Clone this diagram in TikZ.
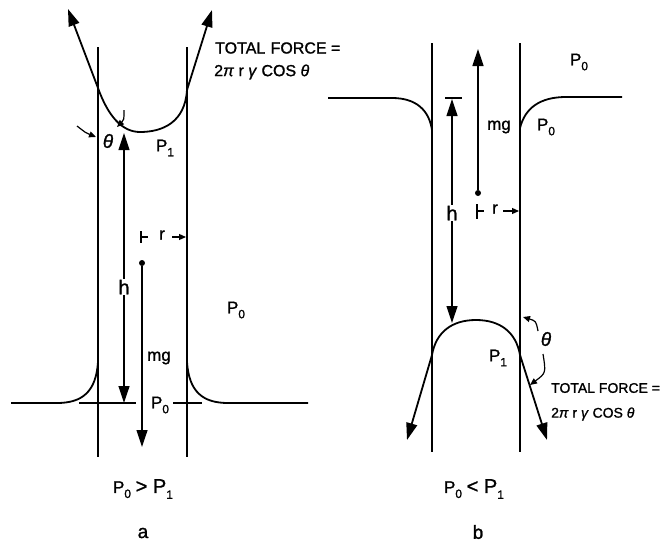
\documentclass[tikz,border=0pt]{standalone}
\usepackage{fontspec}
\setmainfont{Liberation Sans}[FakeBold=1.2]
\usetikzlibrary{arrows.meta}
\newcommand\sbs[1]{\raisebox{-0.55ex}{\fontsize{12}{12}\selectfont #1}}
\begin{document}
\begin{tikzpicture}[x=1pt,y=-1pt,
  wall/.style={line width=2.8pt},
  surf/.style={line width=1.8pt},
  fine/.style={line width=1.2pt},
  bigtip/.style={-{Triangle[length=17pt,width=11pt]}},
  smalltip/.style={-{Triangle[length=7pt,width=6pt]}},
  lbl/.style={font=\fontsize{17}{17}\selectfont, inner sep=1pt},
  hlbl/.style={font=\fontsize{20}{20}\selectfont, inner sep=1pt, fill=white},
  ttl/.style={font=\fontsize{16}{19}\selectfont, anchor=west, inner sep=0pt},
  dotc/.style={circle, fill=black, inner sep=0pt, minimum size=6pt},
]
\useasboundingbox (0,0) rectangle (661,544);

% ================= panel a =================
\coordinate (aLT) at (98,47);  \coordinate (aLB) at (98,457);
\coordinate (aRT) at (187,47); \coordinate (aRB) at (187,457);
\draw[wall] (aLT) -- (aLB);
\draw[wall] (aRT) -- (aRB);

% meniscus (concave)
\coordinate (aCL) at (98,88);
\coordinate (aCR) at (187,90);
\draw[surf] (aCL) .. controls (108,116) and (122,132) .. (140,132)
                  .. controls (163,132) and (185,122) .. (aCR);
\coordinate (aFL) at (68,9);
\coordinate (aFR) at (212,10);
\draw[surf,bigtip] (aCL) -- (aFL);
\draw[surf,bigtip] (aCR) -- (aFR);

% theta (a)
\draw[fine,smalltip] (77,126) .. controls (86,133) .. (96,137);
\draw[fine,smalltip] (124,110) .. controls (124,120) .. (117,127);
\node[lbl,font=\fontsize{19}{19}\selectfont\itshape] (athe) at (108,141) {θ};
\node[lbl] (aP1) at (165,148) {P\sbs{1}};

% total force text (a)
\node[ttl] (aTF1) at (215,48) {TOTAL\,\,FORCE =};
\node[ttl] (aTF2) at (214,72) {2\textit{π} r \textit{γ} COS \textit{θ}};

% outside liquid surface (a)
\draw[surf] (11,403) -- (57,403) .. controls (82,403) and (96,392) .. (98,362);
\draw[surf] (187,362) .. controls (189,392) and (203,403) .. (228,403) -- (308,403);
\coordinate (aS1) at (79,403);  \coordinate (aS2) at (136,403);
\coordinate (aS3) at (173,403); \coordinate (aS4) at (202,403);
\draw[fine] (aS1) -- (aS2);
\draw[fine] (aS3) -- (aS4);

% h (a)
\node[hlbl] (ah) at (124,287) {h};
\coordinate (ahT) at (124,133);
\coordinate (ahB) at (124,403);
\draw[fine,bigtip] (ah) -- (ahT);
\draw[fine,bigtip] (ah) -- (ahB);

% r (a)
\draw[fine] (141,231) -- (141,243);
\draw[fine] (141,237) -- (148,237);
\node[lbl] (ar) at (162,235) {r};
\coordinate (arW) at (186,237);
\draw[fine,smalltip] (172,237) -- (arW);

% mg (a)
\node[dotc] (amgD) at (142,263) {};
\coordinate (amgT) at (142,447);
\draw[fine,bigtip] (amgD) -- (amgT);
\node[lbl] (amg) at (159,358) {mg};
\node[lbl] (aP0i) at (160,405) {P\sbs{0}};
\node[lbl] (aP0o) at (236,310) {P\sbs{0}};

\node[lbl] (acmp) at (143,489) {P\sbs{0} \fontsize{20}{20}\selectfont > P\sbs{1}};
\node[lbl,font=\fontsize{19}{19}\selectfont] (alab) at (143,533) {a};

% ================= panel b =================
\coordinate (bLT) at (432,43);  \coordinate (bLB) at (432,452);
\coordinate (bRT) at (520,43);  \coordinate (bRB) at (520,452);
\draw[wall] (bLT) -- (bLB);
\draw[wall] (bRT) -- (bRB);

% outside liquid surface (b)
\draw[surf] (328,98) -- (392,98) .. controls (416,98) and (429,110) .. (432,130);
\draw[surf] (520,128) .. controls (525,108) and (540,97) .. (566,97) -- (622,97);

% meniscus (convex)
\coordinate (bCL) at (432,355);
\coordinate (bCR) at (520,355);
\draw[surf] (bCL) .. controls (436,332) and (452,320) .. (476,320)
                  .. controls (500,320) and (516,332) .. (bCR);
\coordinate (bFL) at (407,440);
\coordinate (bFR) at (547,440);
\draw[surf,bigtip] (bCL) -- (bFL);
\draw[surf,bigtip] (bCR) -- (bFR);

% theta (b)
\draw[fine,smalltip] (538,331) .. controls (536,321) .. (523,317);
\draw[fine,smalltip] (543,354) .. controls (546,373) .. (530,385);
\node[lbl,font=\fontsize{19}{19}\selectfont\itshape] (bthe) at (546,339) {θ};
\node[lbl] (bP1) at (498,358) {P\sbs{1}};

% total force text (b)
\node[ttl,font=\fontsize{14}{17}\selectfont] (bTF1) at (551,388) {TOTAL FORCE =};
\node[ttl,font=\fontsize{14}{17}\selectfont] (bTF2) at (551,414) {2\textit{π} r \textit{γ} COS \textit{θ}};

% h (b)
\draw[fine] (445,98) -- (462,98);
\node[hlbl] (bh) at (452,213) {h};
\coordinate (bhT) at (452,99);
\coordinate (bhB) at (452,323);
\draw[fine,bigtip] (bh) -- (bhT);
\draw[fine,bigtip] (bh) -- (bhB);

% mg (b)
\node[dotc] (bmgD) at (478,193) {};
\coordinate (bmgT) at (478,49);
\draw[line width=1.6pt,bigtip] (bmgD) -- (bmgT);
\node[lbl] (bmg) at (499,127) {mg};
\node[lbl] (bP0i) at (546,127) {P\sbs{0}};
\node[lbl] (bP0o) at (579,62) {P\sbs{0}};

% r (b)
\draw[fine] (477,204) -- (477,219);
\draw[fine] (477,211) -- (484,211);
\node[lbl] (br) at (495,209) {r};
\coordinate (brW) at (519,211);
\draw[fine,smalltip] (503,211) -- (brW);

\node[lbl] (bcmp) at (474,489) {P\sbs{0} \fontsize{20}{20}\selectfont < P\sbs{1}};
\node[lbl,font=\fontsize{19}{19}\selectfont] (blab) at (478,532) {b};
\end{tikzpicture}
\end{document}
